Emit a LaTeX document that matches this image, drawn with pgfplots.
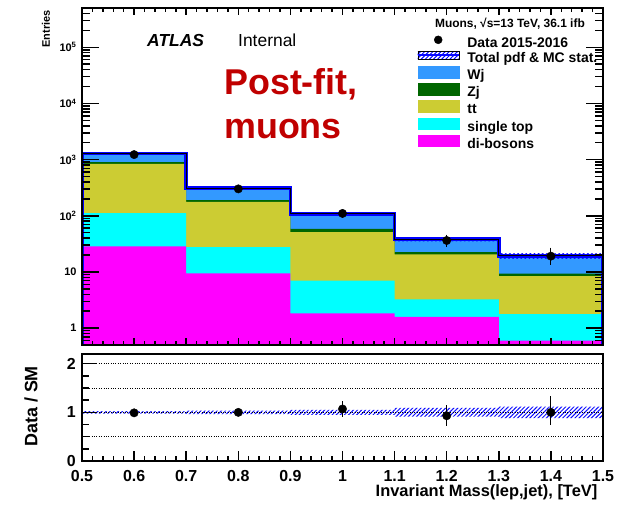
\documentclass[border=0pt]{standalone}
\usepackage{pgfplots}
\pgfplotsset{compat=1.18}
\usepackage{fontspec}
\setmainfont{Liberation Sans}
\usetikzlibrary{patterns.meta}
\definecolor{cWj}{RGB}{51,153,255}
\definecolor{cZj}{RGB}{0,102,0}
\definecolor{ctt}{RGB}{204,204,51}
\definecolor{cst}{RGB}{0,255,255}
\definecolor{cdb}{RGB}{255,0,255}
\definecolor{cred}{RGB}{192,0,0}
\definecolor{hatchblue}{RGB}{10,10,255}
\newcommand\fs[2]{\fontsize{#1}{#2}\selectfont}
\tikzset{hatch/.style={pattern={Lines[angle=45,distance=2.9bp,line width=1.0bp]}, pattern color=hatchblue}}
\pgfplotsset{every tick/.style={black, line width=1.5bp}, tick align=inside}
\begin{document}
\begin{tikzpicture}
\useasboundingbox (0bp,0bp) rectangle (629bp,505bp);
% ---------------- top panel (y ticks)
\begin{axis}[at={(82bp,160bp)}, anchor=south west, scale only axis,
  width=521bp, height=337bp, xmin=0.5, xmax=1.5, ymin=0.5, ymax=5e5, ymode=log,
  axis line style={line width=1.2bp},
  axis on top,
  xtick=\empty,
  ytick={1,10,100,1000,10000,100000},
  yticklabels={1,10,10\textsuperscript{2},10\textsuperscript{3},10\textsuperscript{4},10\textsuperscript{5}},
  minor ytick={0.6,0.7,0.8,0.9,2,3,4,5,6,7,8,9,20,30,40,50,60,70,80,90,200,300,400,500,600,700,800,900,2000,3000,4000,5000,6000,7000,8000,9000,20000,30000,40000,50000,60000,70000,80000,90000,200000,300000,400000},
  major tick length=17bp, minor tick length=8bp,
  yticklabel style={font=\fs{11}{13}\bfseries, xshift=-2bp},
  ylabel={Entries},
  ylabel style={at={(axis description cs:-0.069,1.003)}, anchor=east, font=\fs{11}{13}\bfseries},
  legend cell align=left,
  legend style={at={(axis description cs:0.643,0.918)}, anchor=north west, draw=none, fill=none,
    inner sep=0pt, outer sep=0pt, row sep=0pt, column sep=8bp,
    font=\fs{14}{16.7}\bfseries,
    nodes={inner sep=0pt, text height=9.4bp, text depth=3.6bp}},
]
% stacked histograms (cumulative tops)
\addplot[fill=cWj, draw=none, const plot mark left, forget plot] coordinates {(0.5,0.3)(0.5,1280)(0.7,309)(0.9,108)(1.1,38.3)(1.3,19.4)(1.5,19.4)(1.5,0.3)};
\addplot[fill=cZj, draw=none, const plot mark left, forget plot] coordinates {(0.5,0.3)(0.5,897)(0.7,189)(0.9,58.5)(1.1,22.5)(1.3,9.3)(1.5,9.3)(1.5,0.3)};
\addplot[fill=ctt, draw=none, const plot mark left, forget plot] coordinates {(0.5,0.3)(0.5,837)(0.7,177)(0.9,51)(1.1,20.5)(1.3,8.4)(1.5,8.4)(1.5,0.3)};
\addplot[fill=cst, draw=none, const plot mark left, forget plot] coordinates {(0.5,0.3)(0.5,111)(0.7,27.6)(0.9,7.0)(1.1,3.24)(1.3,1.78)(1.5,1.78)(1.5,0.3)};
\addplot[fill=cdb, draw=none, const plot mark left, forget plot] coordinates {(0.5,0.3)(0.5,28.4)(0.7,9.4)(0.9,1.82)(1.1,1.59)(1.3,0.60)(1.5,0.60)(1.5,0.3)};
% uncertainty band
\addplot[hatch, draw=none, forget plot] coordinates {(0.5,1312)(0.7,1312)(0.7,320)(0.9,320)(0.9,113)(1.1,113)(1.1,41.7)(1.3,41.7)(1.3,21.7)(1.5,21.7)(1.5,17.1)(1.3,17.1)(1.3,34.9)(1.1,34.9)(1.1,103)(0.9,103)(0.9,298)(0.7,298)(0.7,1248)(0.5,1248)};
% total outline
\addplot[color=blue, line width=3.5bp, const plot mark left, forget plot] coordinates {(0.5,0.3)(0.5,1280)(0.7,309)(0.9,108)(1.1,38.3)(1.3,19.4)(1.5,19.4)(1.5,0.3)};
\addplot[color=black, line width=0.9bp, const plot mark left, forget plot] coordinates {(0.5,0.3)(0.5,1280)(0.7,309)(0.9,108)(1.1,38.3)(1.3,19.4)(1.5,19.4)(1.5,0.3)};
% data
\addplot[only marks, mark=*, mark size=4.2bp, black, forget plot,
  error bars/.cd, y dir=both, y explicit, error bar style={line width=1bp, black}, error mark options={mark size=2bp, line width=1bp, black}]
  coordinates {(0.6,1227) +- (0,35) (0.8,301) +- (0,17) (1.0,110) +- (0,10.5) (1.2,36.3) +- (0,6) (1.4,19.1) += (0,5.9) -= (0,4.6)};
% legend
\addlegendimage{legend image code/.code={\path[draw=none, fill=none] (0bp,0bp) -- (41bp,0bp); \fill[black] (20.5bp,4.6bp) circle (4bp);}}
\addlegendentry{Data 2015-2016}
\addlegendimage{legend image code/.code={\path[hatch] (0bp,0.6bp) rectangle (41bp,8.6bp); \draw[hatchblue,line width=1.4bp] (0bp,4.6bp)--(41bp,4.6bp);}}
\addlegendentry{Total pdf \& MC stat.}
\addlegendimage{legend image code/.code={\fill[cWj] (0bp,-1.2bp) rectangle (41bp,10.4bp);}}
\addlegendentry{Wj}
\addlegendimage{legend image code/.code={\fill[cZj] (0bp,-1.2bp) rectangle (41bp,10.4bp);}}
\addlegendentry{Zj}
\addlegendimage{legend image code/.code={\fill[ctt] (0bp,-1.2bp) rectangle (41bp,10.4bp);}}
\addlegendentry{tt}
\addlegendimage{legend image code/.code={\fill[cst] (0bp,-1.2bp) rectangle (41bp,10.4bp);}}
\addlegendentry{single top}
\addlegendimage{legend image code/.code={\fill[cdb] (0bp,-1.2bp) rectangle (41bp,10.4bp);}}
\addlegendentry{di-bosons}
% texts
\node[anchor=base west, inner sep=0pt, font=\fs{17.5}{20}\bfseries\itshape] at (axis description cs:0.1248,0.887) {ATLAS};
\node[anchor=base west, inner sep=0pt, font=\fs{17.5}{20}] at (axis description cs:0.2994,0.887) {Internal};
\node[anchor=base west, inner sep=0pt, font=\fs{36}{43}\bfseries, text=cred] at (axis description cs:0.2726,0.742) {Post-fit,};
\node[anchor=base west, inner sep=0pt, font=\fs{36}{43}\bfseries, text=cred] at (axis description cs:0.2726,0.614) {muons};
\node[anchor=base east, inner sep=0pt, font=\fs{12}{14}\bfseries] at (axis description cs:0.9655,0.9407) {Muons, √s=13 TeV, 36.1 ifb};
\end{axis}
% ---------------- top panel (x ticks overlay)
\begin{axis}[at={(82bp,160bp)}, anchor=south west, scale only axis,
  width=521bp, height=337bp, xmin=0.5, xmax=1.5, ymin=0, ymax=1,
  axis line style={line width=1.2bp},
  ytick=\empty,
  xtick={0.5,0.6,0.7,0.8,0.9,1.0,1.1,1.2,1.3,1.4,1.5}, xticklabels={}, minor x tick num=4,
  major tick length=7bp, minor tick length=4bp,
]
\addplot[draw=none, forget plot] coordinates {(1.0,0.5)};
\end{axis}
% ---------------- ratio panel (y ticks)
\begin{axis}[at={(82bp,44bp)}, anchor=south west, scale only axis,
  width=521bp, height=107bp, xmin=0.5, xmax=1.5, ymin=0, ymax=2.2,
  axis line style={line width=1.2bp},
  axis on top,
  xtick=\empty, ytick pos=left,
  ytick={0,1,2}, yticklabels={0,1,2}, minor y tick num=3,
  major tick length=14bp, minor tick length=7bp,
  yticklabel style={font=\fs{16}{18}\bfseries, xshift=-2.7bp},
  extra y ticks={0.5,1,1.5,2}, extra y tick labels={},
  extra y tick style={ymajorgrids=true, major grid style={black, dotted, line width=0.8bp}, major tick length=0pt},
  ylabel={Data / SM},
  ylabel style={at={(axis description cs:-0.098,0.51)}, anchor=center, font=\fs{18}{20}\bfseries},
]
\addplot[hatch, draw=none] coordinates {(0.5,1.025)(0.7,1.025)(0.7,1.035)(0.9,1.035)(0.9,1.05)(1.1,1.05)(1.1,1.09)(1.3,1.09)(1.3,1.12)(1.5,1.12)(1.5,0.88)(1.3,0.88)(1.3,0.91)(1.1,0.91)(1.1,0.95)(0.9,0.95)(0.9,0.965)(0.7,0.965)(0.7,0.975)(0.5,0.975)};
\addplot[only marks, mark=*, mark size=4.2bp, black,
  error bars/.cd, y dir=both, y explicit, error bar style={line width=1bp, black}, error mark options={mark size=2bp, line width=1bp, black}]
  coordinates {(0.6,0.99) +- (0,0.03) (0.8,1.0) +- (0,0.035) (1.0,1.07) +- (0,0.12) (1.2,0.93) += (0,0.18) -= (0,0.16) (1.4,1.0) += (0,0.29) -= (0,0.22)};
\end{axis}
% ---------------- ratio panel (x ticks overlay)
\begin{axis}[at={(82bp,44bp)}, anchor=south west, scale only axis,
  width=521bp, height=107bp, xmin=0.5, xmax=1.5, ymin=0, ymax=2.2,
  axis line style={line width=1.2bp},
  ytick=\empty, xtick pos=bottom,
  xtick={0.5,0.6,0.7,0.8,0.9,1.0,1.1,1.2,1.3,1.4,1.5},
  xticklabels={0.5,0.6,0.7,0.8,0.9,1,1.1,1.2,1.3,1.4,1.5}, minor x tick num=4,
  major tick length=10bp, minor tick length=5bp,
  xticklabel style={font=\fs{16}{18}\bfseries, anchor=base, yshift=-20.7bp},
  xlabel={Invariant Mass(lep,jet), [TeV]},
  xlabel style={at={(axis description cs:0.996,-0.336)}, anchor=base east, font=\fs{16.5}{18}\bfseries},
]
\addplot[draw=none, forget plot] coordinates {(1.0,1.0)};
\end{axis}
\end{tikzpicture}
\end{document}
